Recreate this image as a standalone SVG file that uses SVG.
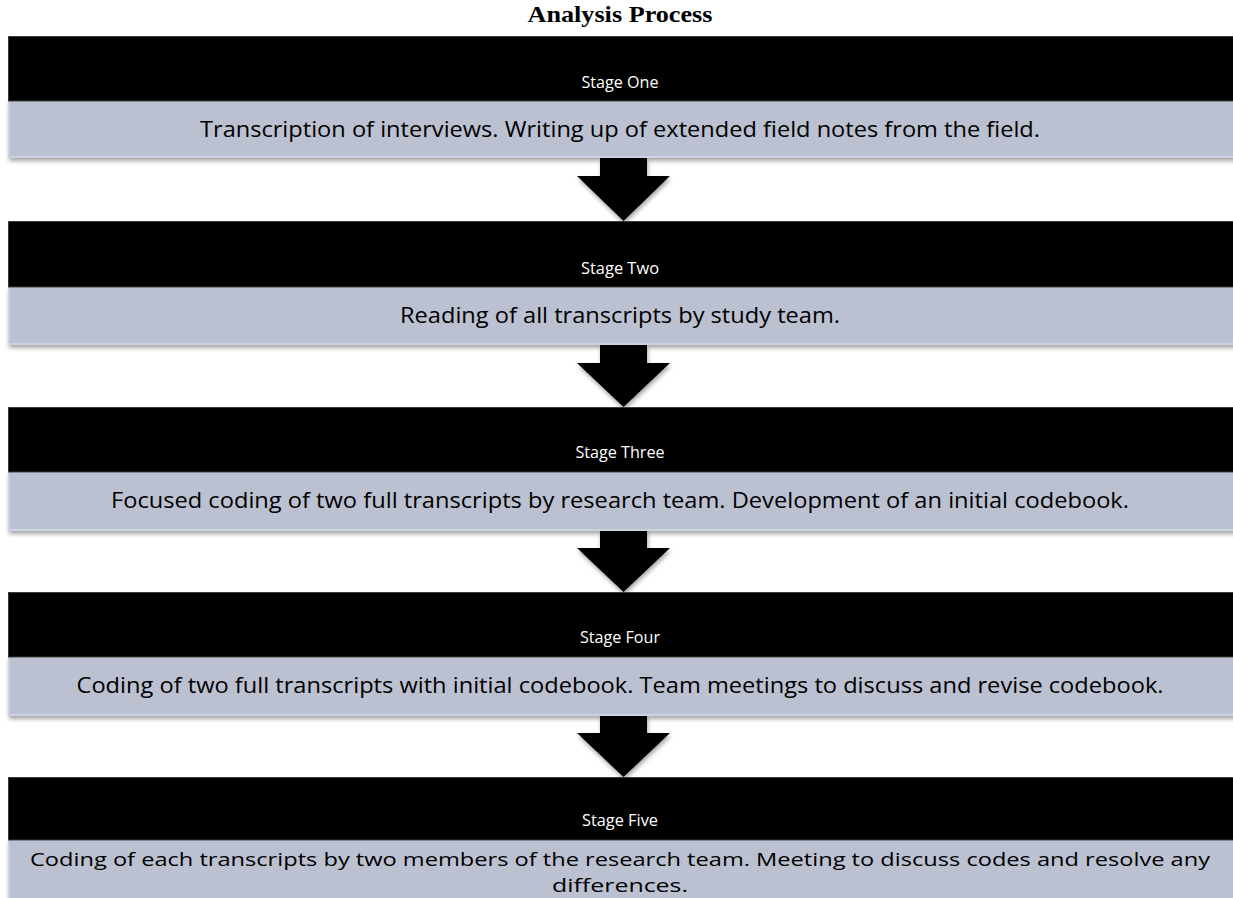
<svg xmlns="http://www.w3.org/2000/svg" width="1233" height="898" viewBox="0 0 1233 898">
<defs>
<filter id="sh" x="-5%" y="-20%" width="110%" height="160%">
<feDropShadow dx="1" dy="3" stdDeviation="2" flood-color="#000" flood-opacity="0.35"/>
</filter>
<style>
.hdr{fill:#000;stroke:#3a3a3a;stroke-width:1}
.body{fill:#bbc1d1;stroke:#ccd2e0;stroke-width:2}
.lbl{font-family:"Open Sans","Noto Sans",sans-serif;font-size:16px;fill:#fff;text-anchor:middle}
.txt{font-family:"Open Sans","Noto Sans",sans-serif;font-size:22px;fill:#000;text-anchor:middle}
.txt5{font-family:"Open Sans","Noto Sans",sans-serif;font-size:19px;fill:#000;text-anchor:middle}
.ttl{font-family:"Liberation Serif","Times New Roman",serif;font-size:23px;font-weight:bold;fill:#000;text-anchor:middle}
.arr{fill:#000}
</style>
</defs>
<rect width="1233" height="898" fill="#fff"/>
<text class="ttl" x="620" y="22" textLength="185" lengthAdjust="spacingAndGlyphs">Analysis Process</text>

<g id="connectors" filter="url(#sh)">
<path class="arr" d="M600,158 H647 V176 H670 L623.5,221 L577,176 H600 Z"/>
<path class="arr" d="M600,345 H647 V363 H670 L623.5,407 L577,363 H600 Z"/>
<path class="arr" d="M600,530 H647 V548 H670 L623.5,592 L577,548 H600 Z"/>
<path class="arr" d="M600,715 H647 V733 H670 L623.5,777 L577,733 H600 Z"/>
</g>

<g id="stage1">
<rect class="body" x="9" y="101" width="1230" height="56" filter="url(#sh)"/>
<rect class="hdr" x="8.5" y="36.5" width="1230" height="64.5"/>
<text class="lbl" x="620" y="88" textLength="77" lengthAdjust="spacingAndGlyphs">Stage One</text>
<text class="txt" x="620" y="137" textLength="840" lengthAdjust="spacingAndGlyphs">Transcription of interviews. Writing up of extended field notes from the field.</text>
</g>

<g id="stage2">
<rect class="body" x="9" y="287" width="1230" height="57" filter="url(#sh)"/>
<rect class="hdr" x="8.5" y="221.5" width="1230" height="65.5"/>
<text class="lbl" x="620" y="274" textLength="78" lengthAdjust="spacingAndGlyphs">Stage Two</text>
<text class="txt" x="620" y="323" textLength="440" lengthAdjust="spacingAndGlyphs">Reading of all transcripts by study team.</text>
</g>

<g id="stage3">
<rect class="body" x="9" y="472" width="1230" height="58" filter="url(#sh)"/>
<rect class="hdr" x="8.5" y="407.5" width="1230" height="64.5"/>
<text class="lbl" x="620" y="458" textLength="89" lengthAdjust="spacingAndGlyphs">Stage Three</text>
<text class="txt" x="620" y="508" textLength="1018" lengthAdjust="spacingAndGlyphs">Focused coding of two full transcripts by research team. Development of an initial codebook.</text>
</g>

<g id="stage4">
<rect class="body" x="9" y="657" width="1230" height="58" filter="url(#sh)"/>
<rect class="hdr" x="8.5" y="592.5" width="1230" height="64.5"/>
<text class="lbl" x="620" y="643" textLength="80" lengthAdjust="spacingAndGlyphs">Stage Four</text>
<text class="txt" x="620" y="693" textLength="1087" lengthAdjust="spacingAndGlyphs">Coding of two full transcripts with initial codebook. Team meetings to discuss and revise codebook.</text>
</g>

<g id="stage5">
<rect class="body" x="9" y="840" width="1230" height="70" filter="url(#sh)"/>
<rect class="hdr" x="8.5" y="777.5" width="1230" height="62.5"/>
<text class="lbl" x="620" y="826" textLength="76" lengthAdjust="spacingAndGlyphs">Stage Five</text>
<text class="txt5" x="620" y="866" textLength="1180" lengthAdjust="spacingAndGlyphs">Coding of each transcripts by two members of the research team. Meeting to discuss codes and resolve any</text>
<text class="txt5" x="620" y="892" textLength="136" lengthAdjust="spacingAndGlyphs">differences.</text>
</g>
</svg>
